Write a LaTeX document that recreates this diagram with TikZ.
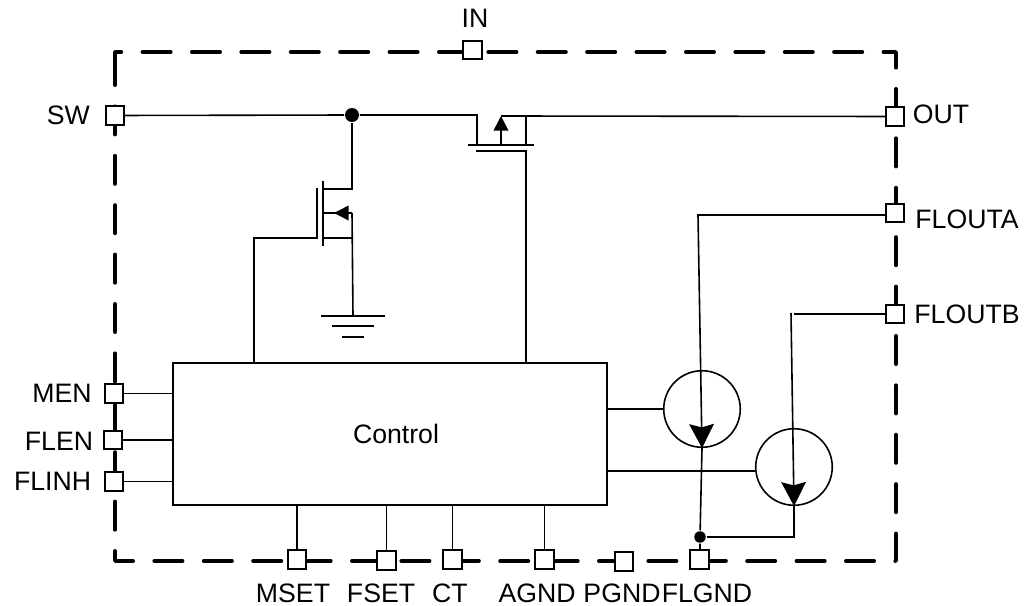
\documentclass[tikz,border=0pt]{standalone}
\usepackage{fontspec}
\setmainfont{Liberation Sans}
\usetikzlibrary{arrows.meta}

\begin{document}
\begin{tikzpicture}[x=0.75pt, y=-0.75pt, line width=1.2pt,
	every node/.style={font=\fontsize{20}{24}\selectfont, inner sep=0pt},
	pinbox/.style={draw, fill=white, minimum size=13.9pt},
	frameline/.style={line width=2.8pt, line cap=round, line join=round, dash pattern=on 21.2pt off 15.85pt},
	junction/.style={circle, fill=black, minimum size=#1},
	source/.style={circle, draw, minimum size=57.4pt},
	bigtip/.style={-{Stealth[length=18pt, width=18.5pt, inset=2.5pt]}},
	fettip/.style={-{Triangle[length=11pt, width=11pt]}}]
	\useasboundingbox (0,0) rectangle (1025,606);

	\draw[frameline] (115,56.9) -- (115,561) -- (896,561) -- (896,52) -- (115,52) -- cycle;

	\node[pinbox](IN) at (472.5,50){};
	\node[pinbox](SW) at (115,115.5){};
	\node[pinbox](OUT) at (895,116.5){};
	\node[pinbox](FLOUTA) at (895,213){};
	\node[pinbox](FLOUTB) at (895,314){};
	\node[pinbox](MEN) at (114,393.5){};
	\node[pinbox](FLEN) at (113,440){};
	\node[pinbox](FLINH) at (114,481.5){};
	\node[pinbox](MSET) at (297,559.5){};
	\node[pinbox](FSET) at (386.5,560.5){};
	\node[pinbox](CT) at (452.5,559.5){};
	\node[pinbox](AGND) at (544.5,559.5){};
	\node[pinbox](PGND) at (624,561.5){};
	\node[pinbox](FLGND) at (699.5,559.5){};

	\node[above of=IN, node distance=23.6pt, xshift=1.9pt](LIN){IN};
	\node[left of=SW, node distance=35pt](LSW){SW};
	\node[right of=OUT, node distance=34.5pt, yshift=1.5pt](LOUT){OUT};
	\node[right of=FLOUTA, node distance=54pt, yshift=-4.9pt](LFLOUTA){FLOUTA};
	\node[right of=FLOUTB, node distance=54pt](LFLOUTB){FLOUTB};
	\node[left of=MEN, node distance=39pt](LMEN){MEN};
	\node[left of=FLEN, node distance=40.5pt, yshift=-0.8pt](LFLEN){FLEN};
	\node[left of=FLINH, node distance=46.1pt](LFLINH){FLINH};
	\node[below of=MSET, node distance=25.5pt, xshift=-3pt](LMSET){MSET};
	\node[below of=FSET, node distance=24.8pt, xshift=-4.1pt](LFSET){FSET};
	\node[below of=CT, node distance=25.5pt, xshift=-1.9pt](LCT){CT};
	\node[below of=AGND, node distance=25.5pt, xshift=-5.6pt](LAGND){AGND};
	\node[below of=PGND, node distance=24pt, xshift=-1.5pt](LPGND){PGND};
	\node[below of=FLGND, node distance=25.5pt, xshift=5.6pt](LFLGND){FLGND};

	\node[draw, minimum width=325.5pt, minimum height=106.5pt](CTRL) at (390,434){};
	\node[right of=CTRL, node distance=4.5pt](LCTRL){Control};

	\node[source](SRC1) at (702,409){};
	\node[source](SRC2) at (794,467){};

	\draw (MEN) -- (MEN -| CTRL.west);
	\draw (FLEN) -- (FLEN -| CTRL.west);
	\draw (FLINH) -- (FLINH -| CTRL.west);
	\draw (MSET) -- (MSET |- CTRL.south);
	\draw (FSET) -- (FSET |- CTRL.south);
	\draw (CT) -- (CT |- CTRL.south);
	\draw (AGND) -- (AGND |- CTRL.south);

	\node[junction=10.5pt](J1) at (352,115){};
	\coordinate(Q1D) at (477,115);
	\coordinate(Q1S) at (526,116);
	\coordinate(Q1B) at (501,116);
	\coordinate(Q1G) at (526,151);

	\draw (SW) -- (J1) -- (Q1D) -- (477,145);
	\draw (OUT) -- (Q1B);
	\draw (Q1S) -- (526,145);
	\draw (468,145) -- (534,145);
	\draw (476,151) -- (Q1G) -- (Q1G |- CTRL.north);
	\draw[fettip] (501,145) -- (Q1B);

	\coordinate(Q2D) at (352,189);
	\coordinate(Q2S) at (352,238);
	\coordinate(Q2B) at (352,213);
	\coordinate(Q2G) at (254,238);
	\coordinate(GND) at (353,316);

	\draw (J1) -- (Q2D) -- (323,189);
	\draw (323,181) -- (323,246);
	\draw (317,188) -- (317,238) -- (Q2G) -- (Q2G |- CTRL.north);
	\draw (323,238) -- (Q2S);
	\draw (Q2B) -- (GND);
	\draw[fettip] (Q2B) -- (334,213);
	\draw (323,213) -- (336,213);

	\draw (321,316) -- (385,316);
	\draw (332,326) -- (374,326);
	\draw (342,337) -- (364,337);

	\coordinate(A1) at (698,215);
	\coordinate(B0) at (791,313);
	\coordinate(B1) at (794,314);
	\coordinate(D1) at (755.2,471);
	\node[junction=8.6pt](J2) at (700,537){};

	\draw[bigtip] (FLOUTA.west |- A1) -- (A1) -- (SRC1.south);
	\draw (FLOUTB) -- (B1);
	\draw[bigtip] (B0) -- (SRC2.south);

	\draw (SRC1.west) -- (SRC1.west -| CTRL.east);
	\draw (D1) -- (D1 -| CTRL.east);
	\draw (SRC1.south) -- (J2) -- (J2 |- FLGND.north);
	\draw (J2) -| (SRC2.south);
\end{tikzpicture}
\end{document}
